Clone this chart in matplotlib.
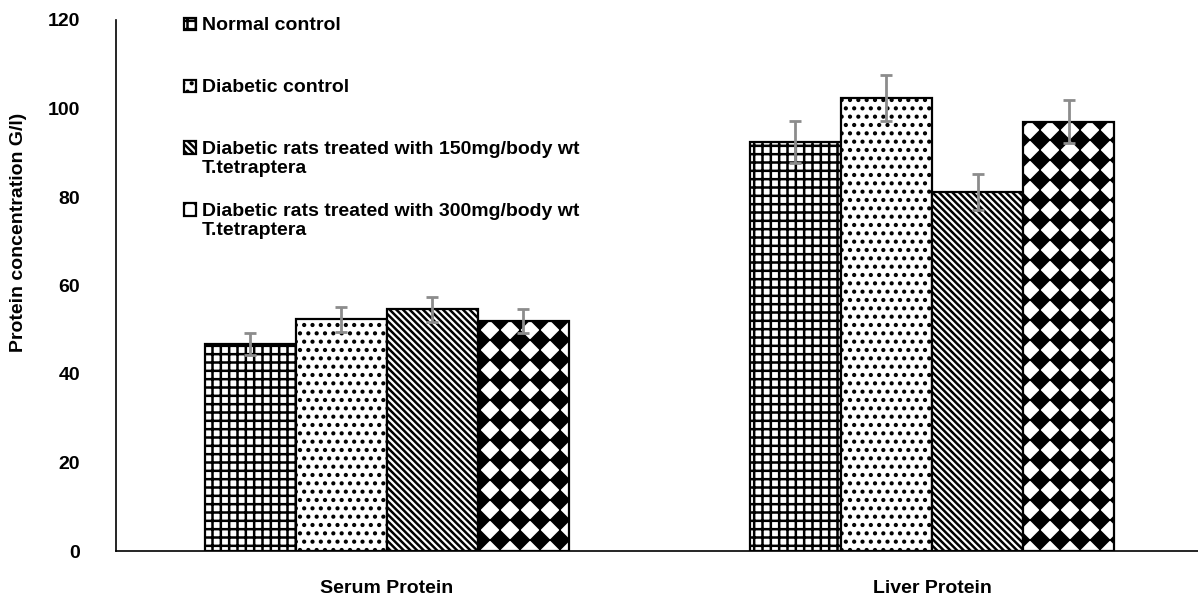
import warnings
import numpy as np
import matplotlib
matplotlib.use('Agg')
import matplotlib.pyplot as plt
import matplotlib.hatch as mhatch
from matplotlib.path import Path
from matplotlib.patches import Rectangle
from matplotlib.legend_handler import HandlerPatch

warnings.filterwarnings('ignore', message='.*hatch must consist.*')

groups = ['Serum Protein', 'Liver Protein']
series_names = ['Normal control',
                'Diabetic control',
                'Diabetic rats treated with 150mg/body wt\nT.tetraptera',
                'Diabetic rats treated with 300mg/body wt\nT.tetraptera']

normal_control = [46.8, 92.4]
diabetic_control = [52.4, 102.4]
treated_150 = [54.6, 81.2]
treated_300 = [52.0, 97.0]

normal_err = [2.4, 4.7]
diabetic_err = [2.8, 5.2]
treated_150_err = [2.8, 4.1]
treated_300_err = [2.7, 4.9]

y_ticks = [0, 20, 40, 60, 80, 100, 120]


# matplotlib has no diamond hatch, so add one ('d')
class DiamondHatch(mhatch.HatchPatternBase):
    def __init__(self, hatch, density):
        self.n = 5 if 'd' in hatch else 0
        self.num_vertices = (self.n + 1) ** 2 * 5 if self.n else 0

    def set_vertices_and_codes(self, vertices, codes):
        r = 0.44 / self.n
        shape = np.array([[-r, 0], [0, r], [r, 0], [0, -r], [-r, 0]])
        vparts, cparts = [], []
        for i in range(self.n + 1):
            for j in range(self.n + 1):
                vparts.append(shape + [i / self.n, j / self.n])
                cparts.append([Path.MOVETO, Path.LINETO, Path.LINETO,
                               Path.LINETO, Path.CLOSEPOLY])
        np.concatenate(vparts, out=vertices)
        np.concatenate(cparts, out=codes)


mhatch._hatch_types.append(DiamondHatch)

plt.rcParams['font.family'] = ['Liberation Sans', 'DejaVu Sans']
plt.rcParams['font.weight'] = 'bold'
plt.rcParams['axes.labelweight'] = 'bold'
plt.rcParams['font.size'] = 14
plt.rcParams['hatch.linewidth'] = 1.8
plt.rcParams['hatch.color'] = 'black'

fig = plt.figure(figsize=(11.98, 6.05), dpi=100)
ax = fig.add_axes([116 / 1198, 1 - 551 / 605, 1 - 116 / 1198, 531 / 605])

x = np.arange(len(groups))
width = 0.167
values = [normal_control, diabetic_control, treated_150, treated_300]
errors = [normal_err, diabetic_err, treated_150_err, treated_300_err]
hatches = ['++', '..', '\\' * 5, 'd']

bars = []
for k in range(4):
    b = ax.bar(x + (k - 1.5) * width, values[k], width, color='white',
               edgecolor='black', linewidth=1.6, hatch=hatches[k],
               label=series_names[k], zorder=2)
    bars.append(b)
    ax.errorbar(x + (k - 1.5) * width, values[k], yerr=errors[k], fmt='none',
                ecolor='#8c8c8c', elinewidth=2, capsize=4, capthick=2, zorder=3)

ax.set_xlim(-0.497, 1.488)
ax.set_ylim(0, 120)
ax.set_yticks(y_ticks)
ax.set_xticks(x)
ax.set_xticklabels(groups)
ax.tick_params(axis='y', length=0, pad=26)
ax.tick_params(axis='x', length=0, pad=21)
for s in ['top', 'right']:
    ax.spines[s].set_visible(False)
ax.spines['left'].set_linewidth(1.2)
ax.spines['bottom'].set_linewidth(1.2)

ax.set_ylabel('Protein concentration G/l)')
ax.yaxis.set_label_coords(-0.082, 0.6)


# legend box sits level with the first line of a two-line label
def top_box(legend, orig_handle, xdescent, ydescent, width, height, fontsize):
    return Rectangle((-xdescent, -ydescent + 0.57 * fontsize), width, height)


handles = [b.patches[0] for b in bars]
labels = [lab if '\n' in lab else lab + '\n ' for lab in series_names]
leg = ax.legend(handles, labels, loc='upper left',
                bbox_to_anchor=(184 / 1198, 1 - 17 / 605),
                bbox_transform=fig.transFigure, frameon=False,
                borderpad=0, borderaxespad=0, labelspacing=1.3,
                handlelength=0.6, handleheight=0.6, handletextpad=0.3,
                handler_map={Rectangle: HandlerPatch(patch_func=top_box)})

plt.savefig('out.png', dpi=100)
